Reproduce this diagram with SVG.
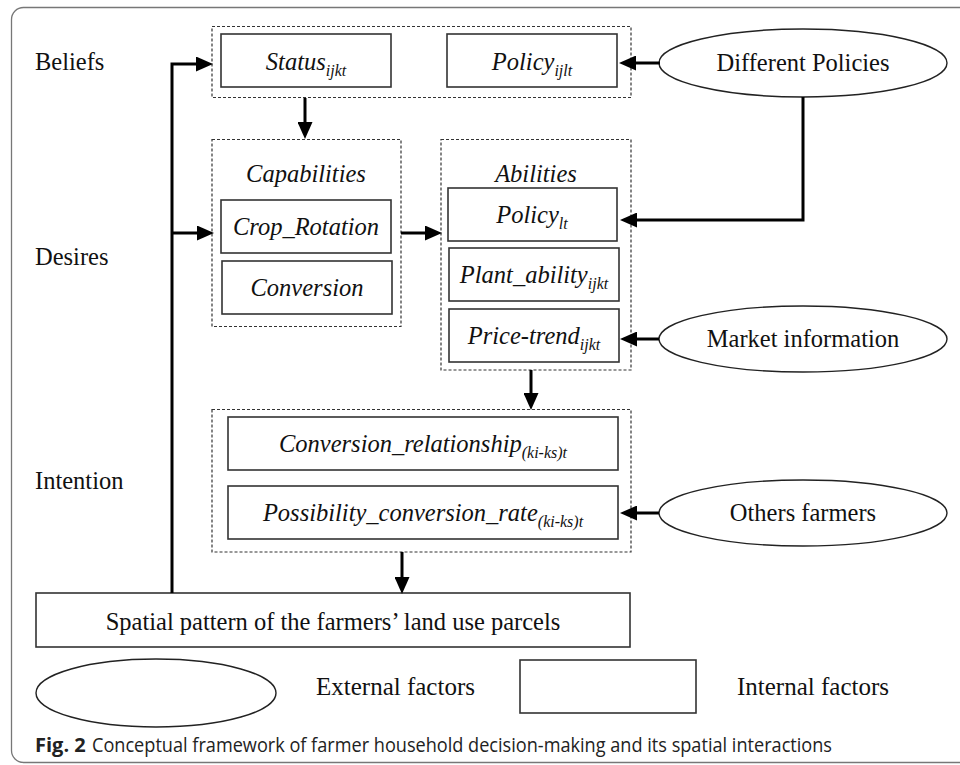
<svg xmlns="http://www.w3.org/2000/svg" width="960" height="765" viewBox="0 0 960 765">
<style>
.frame{fill:none;stroke:#777;stroke-width:1.3}
.grp{fill:none;stroke:#333;stroke-width:1.2;stroke-dasharray:3,2}
.box{fill:#fff;stroke:#333;stroke-width:1.6}
.ell{fill:#fff;stroke:#222;stroke-width:1.4}
.con{fill:none;stroke:#000;stroke-width:3}
.t{font-family:"Liberation Serif","Times New Roman",serif;font-size:24.5px;fill:#111}
.ti{font-family:"Liberation Serif","Times New Roman",serif;font-size:24.5px;font-style:italic;fill:#111}
.sub{font-size:16px}
.cap{font-family:"Open Sans","Noto Sans","Liberation Sans",sans-serif;font-size:20px;fill:#222}
</style>
<defs>
<marker id="ah" markerUnits="userSpaceOnUse" markerWidth="17" markerHeight="15" refX="8" refY="7.5" orient="auto">
<path d="M0,0 L17,7.5 L0,15 z" fill="#000"/>
</marker>
</defs>
<rect width="960" height="765" fill="#fff"/>
<path class="frame" d="M962,7.5 L23.5,7.5 A12,12 0 0 0 11.5,19.5 L11.5,750.5 A12,12 0 0 0 23.5,762.5 L962,762.5"/>

<g id="labels">
<text class="t" x="35" y="70">Beliefs</text>
<text class="t" x="35" y="265">Desires</text>
<text class="t" x="35" y="489">Intention</text>
</g>

<g id="beliefs-group"><rect class="grp" x="212" y="26.5" width="419" height="71"/></g>
<g id="status"><rect class="box" x="221" y="34" width="170" height="53"/>
<text class="ti" x="306" y="70" text-anchor="middle">Status<tspan class="sub" dy="6">ijkt</tspan></text></g>
<g id="policy-ijlt"><rect class="box" x="447" y="34" width="170" height="53"/>
<text class="ti" x="532" y="70" text-anchor="middle">Policy<tspan class="sub" dy="6">ijlt</tspan></text></g>

<g id="capabilities"><rect class="grp" x="212" y="139.5" width="189" height="187"/>
<text class="ti" x="306" y="182" text-anchor="middle">Capabilities</text></g>
<g id="crop-rotation"><rect class="box" x="221" y="200" width="170" height="53"/>
<text class="ti" x="306" y="235" text-anchor="middle">Crop_Rotation</text></g>
<g id="conversion"><rect class="box" x="222" y="261" width="170" height="53"/>
<text class="ti" x="307" y="296" text-anchor="middle">Conversion</text></g>

<g id="abilities"><rect class="grp" x="441" y="139.5" width="190" height="230.5"/>
<text class="ti" x="536" y="182" text-anchor="middle">Abilities</text></g>
<g id="policy-lt"><rect class="box" x="448" y="188" width="169" height="53"/>
<text class="ti" x="532" y="223" text-anchor="middle">Policy<tspan class="sub" dy="6">lt</tspan></text></g>
<g id="plant-ability"><rect class="box" x="449" y="248" width="170" height="53"/>
<text class="ti" x="534" y="283" text-anchor="middle">Plant_ability<tspan class="sub" dy="6">ijkt</tspan></text></g>
<g id="price-trend"><rect class="box" x="449" y="309" width="170" height="53"/>
<text class="ti" x="534" y="344" text-anchor="middle">Price-trend<tspan class="sub" dy="6">ijkt</tspan></text></g>

<g id="intention-group"><rect class="grp" x="212" y="409.5" width="419" height="142.5"/></g>
<g id="conversion-relationship"><rect class="box" x="228" y="417" width="390" height="53"/>
<text class="ti" x="423" y="452" text-anchor="middle">Conversion_relationship<tspan class="sub" dy="6">(ki-ks)t</tspan></text></g>
<g id="possibility"><rect class="box" x="228" y="486" width="390" height="53"/>
<text class="ti" x="423" y="521" text-anchor="middle">Possibility_conversion_rate<tspan class="sub" dy="6">(ki-ks)t</tspan></text></g>

<g id="spatial"><rect class="box" x="36" y="593" width="594" height="54"/>
<text class="t" x="333" y="630" text-anchor="middle">Spatial pattern of the farmers’ land use parcels</text></g>

<g id="different-policies"><ellipse class="ell" cx="803" cy="63" rx="144" ry="34"/>
<text class="t" x="803" y="71" text-anchor="middle">Different Policies</text></g>
<g id="market-information"><ellipse class="ell" cx="803" cy="339" rx="144" ry="33"/>
<text class="t" x="803" y="347" text-anchor="middle">Market information</text></g>
<g id="others-farmers"><ellipse class="ell" cx="803" cy="513" rx="144" ry="33"/>
<text class="t" x="803" y="521" text-anchor="middle">Others farmers</text></g>

<g id="legend">
<ellipse class="ell" cx="156" cy="693" rx="120" ry="34"/>
<text class="t" x="316" y="695" style="font-size:25px">External factors</text>
<rect class="box" x="520" y="660" width="176" height="53"/>
<text class="t" x="737" y="695" style="font-size:25px">Internal factors</text>
</g>

<g id="connectors">
<path class="con" d="M172,593 L172,64 L204,64" marker-end="url(#ah)"/>
<path class="con" d="M172,233 L205,233" marker-end="url(#ah)"/>
<path class="con" d="M305,98 L305,130" marker-end="url(#ah)"/>
<path class="con" d="M401,233 L433,233" marker-end="url(#ah)"/>
<path class="con" d="M531,370 L531,401" marker-end="url(#ah)"/>
<path class="con" d="M402,552 L402,585" marker-end="url(#ah)"/>
<path class="con" d="M660,63 L628,63" marker-end="url(#ah)"/>
<path class="con" d="M803,97 L803,220 L629,220" marker-end="url(#ah)"/>
<path class="con" d="M659,339 L629,339" marker-end="url(#ah)"/>
<path class="con" d="M659,513 L629,513" marker-end="url(#ah)"/>
</g>

<g id="caption">
<text class="cap" x="35" y="752"><tspan font-weight="bold" font-family="'Open Sans','Liberation Sans',sans-serif">Fig. 2</tspan></text>
<text class="cap" x="92" y="752" textLength="740" lengthAdjust="spacingAndGlyphs">Conceptual framework of farmer household decision-making and its spatial interactions</text>
</g>
</svg>
